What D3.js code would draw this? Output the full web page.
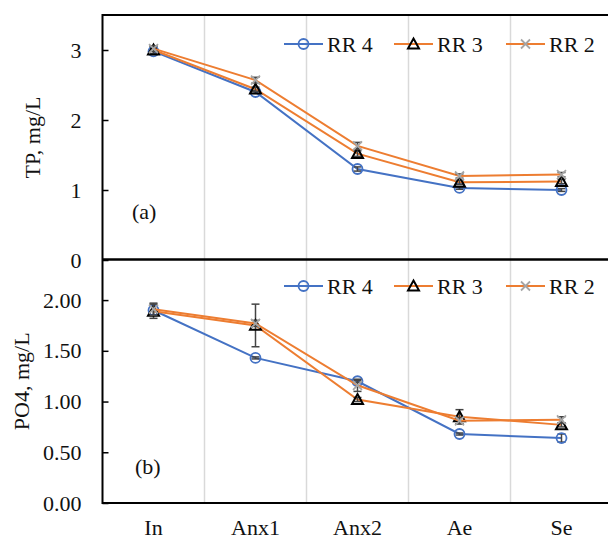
<!DOCTYPE html>
<html>
<head>
<meta charset="utf-8">
<script src="https://cdn.jsdelivr.net/npm/d3@7/dist/d3.min.js"></script>
<style>
  html, body { margin: 0; padding: 0; background: #fff; }
  svg { display: block; font-family: "Liberation Serif", "Times New Roman", serif; }
  svg text { font-family: "Liberation Serif", "Times New Roman", serif; }
</style>
</head>
<body>
<svg id="chart" width="608" height="540"></svg>
<script>
// ---------- data ----------
const categories = ["In", "Anx1", "Anx2", "Ae", "Se"];
const seriesNames = ["RR 4", "RR 3", "RR 2"];

// (a) TP, mg/L
const tpRR4 = [2.98, 2.40, 1.30, 1.03, 1.00];
const tpRR3 = [3.00, 2.44, 1.52, 1.11, 1.12];
const tpRR2 = [3.02, 2.57, 1.63, 1.20, 1.22];
const tpErrRR4 = [0.04, 0.02, 0.03, 0.02, 0.02];
const tpErrRR3 = [0.05, 0.03, 0.04, 0.03, 0.03];
const tpErrRR2 = [0.04, 0.04, 0.05, 0.03, 0.03];
const tpTicks = [0, 1, 2, 3];

// (b) PO4, mg/L
const po4RR4 = [1.90, 1.43, 1.20, 0.68, 0.64];
const po4RR3 = [1.89, 1.75, 1.02, 0.85, 0.77];
const po4RR2 = [1.91, 1.77, 1.16, 0.81, 0.82];
const po4ErrRR4 = [0.05, 0.01, 0.01, 0.01, 0.04];
const po4ErrRR3 = [0.07, 0.21, 0.02, 0.07, 0.02];
const po4ErrRR2 = [0.06, 0.03, 0.06, 0.03, 0.03];
const po4Ticks = [0, 0.5, 1.0, 1.5, 2.0];

// ---------- styling ----------
const styles = {
  "RR 4": { line: "#4472C4", marker: "circle" },
  "RR 3": { line: "#ED7D31", marker: "triangle" },
  "RR 2": { line: "#ED7D31", marker: "cross" }
};
const textColor = "#111";
const errColor = "#444";
const fontFam = "'Liberation Serif', 'Times New Roman', serif";

const svg = d3.select("#chart");
const left = 102.5, right = 612.5;

const x = d3.scaleBand().domain(categories).range([left, right]);
const cx = c => x(c) + x.bandwidth() / 2;

const panels = [
  {
    id: "a", top: 15, bottom: 260, domain: [0, 3.5], ticks: tpTicks, fmt: d3.format("d"),
    title: "TP, mg/L", titleX: 40, label: "(a)", labelX: 132, labelY: 219, legendY: 44,
    values: [tpRR4, tpRR3, tpRR2], errs: [tpErrRR4, tpErrRR3, tpErrRR2]
  },
  {
    id: "b", top: 259.5, bottom: 503, domain: [0, 2.4], ticks: po4Ticks, fmt: d3.format(".2f"),
    title: "PO4, mg/L", titleX: 29, label: "(b)", labelX: 135, labelY: 474, legendY: 286,
    values: [po4RR4, po4RR3, po4RR2], errs: [po4ErrRR4, po4ErrRR3, po4ErrRR2]
  }
];

function drawMarker(g, type, px, py) {
  if (type === "circle") {
    g.append("circle").attr("cx", px).attr("cy", py).attr("r", 5)
      .attr("fill", "none").attr("stroke", "#4472C4").attr("stroke-width", 1.8);
  } else if (type === "triangle") {
    const s = 5.5;
    g.append("path")
      .attr("d", `M${px},${py - s} L${px + s},${py + s * 0.8} L${px - s},${py + s * 0.8} Z`)
      .attr("fill", "none").attr("stroke", "#000").attr("stroke-width", 2);
  } else {
    const s = 4.5;
    g.append("path")
      .attr("d", `M${px - s},${py - s} L${px + s},${py + s} M${px - s},${py + s} L${px + s},${py - s}`)
      .attr("fill", "none").attr("stroke", "#A5A5A5").attr("stroke-width", 1.8);
  }
}

panels.forEach(p => {
  const y = d3.scaleLinear().domain(p.domain).range([p.bottom, p.top]);
  const g = svg.append("g");

  // vertical gridlines between categories
  g.selectAll(".grid").data(categories.slice(1)).enter().append("line")
    .attr("x1", d => x(d)).attr("x2", d => x(d))
    .attr("y1", p.top).attr("y2", p.bottom)
    .attr("stroke", "#d9d9d9").attr("stroke-width", 1.5);

  // y axis
  const axis = d3.axisLeft(y).tickValues(p.ticks).tickFormat(p.fmt)
    .tickSizeInner(-6).tickSizeOuter(0).tickPadding(21);
  const ag = g.append("g").attr("transform", `translate(${left},0)`).call(axis)
    .attr("font-family", fontFam);
  ag.select(".domain").remove();
  ag.selectAll(".tick line").attr("stroke", "#000").attr("stroke-width", 1.5);
  ag.selectAll(".tick text").attr("font-size", 22).attr("fill", textColor)
    .attr("font-family", fontFam);

  // axis title
  g.append("text")
    .attr("transform", `translate(${p.titleX},${(p.top + p.bottom) / 2}) rotate(-90)`)
    .attr("text-anchor", "middle").attr("font-size", 22).attr("fill", textColor)
    .attr("font-family", fontFam)
    .text(p.title);

  // panel label
  g.append("text").attr("x", p.labelX).attr("y", p.labelY)
    .attr("font-size", 22).attr("fill", textColor).attr("font-family", fontFam).text(p.label);

  // series
  seriesNames.forEach((name, i) => {
    const vals = p.values[i];
    const errs = p.errs[i];
    const st = styles[name];
    const pts = categories.map((c, j) => [cx(c), y(vals[j])]);
    g.append("path").attr("d", d3.line()(pts))
      .attr("fill", "none").attr("stroke", st.line).attr("stroke-width", 2);
    // error bars
    categories.forEach((c, j) => {
      const px = cx(c);
      const y1 = y(vals[j] + errs[j]), y2 = y(vals[j] - errs[j]);
      g.append("line").attr("x1", px).attr("x2", px).attr("y1", y1).attr("y2", y2)
        .attr("stroke", errColor).attr("stroke-width", 1.5);
      [y1, y2].forEach(yy => g.append("line")
        .attr("x1", px - 4).attr("x2", px + 4).attr("y1", yy).attr("y2", yy)
        .attr("stroke", errColor).attr("stroke-width", 1.5));
    });
    pts.forEach(([px, py]) => drawMarker(g, st.marker, px, py));
  });

  // legend
  const legX = [284, 394, 506];
  seriesNames.forEach((name, i) => {
    const st = styles[name];
    const lx = legX[i];
    g.append("line").attr("x1", lx).attr("x2", lx + 39)
      .attr("y1", p.legendY).attr("y2", p.legendY)
      .attr("stroke", st.line).attr("stroke-width", 2);
    drawMarker(g, st.marker, lx + 19.5, p.legendY);
    g.append("text").attr("x", lx + 43).attr("y", p.legendY + 7.5)
      .attr("font-size", 22).attr("fill", textColor).attr("font-family", fontFam).text(name);
  });
});

// frame lines
const frame = svg.append("g").attr("stroke", "#000").attr("stroke-width", 2);
frame.append("line").attr("x1", left).attr("x2", left).attr("y1", 14).attr("y2", 504);
frame.append("line").attr("x1", left).attr("x2", 608).attr("y1", 15).attr("y2", 15);
frame.append("line").attr("x1", left).attr("x2", 608).attr("y1", 259.5).attr("y2", 259.5).attr("stroke-width", 2.5);
frame.append("line").attr("x1", left).attr("x2", 608).attr("y1", 503).attr("y2", 503);

// x labels
svg.append("g").selectAll("text").data(categories).enter().append("text")
  .attr("x", d => cx(d)).attr("y", 535)
  .attr("text-anchor", "middle").attr("font-size", 22).attr("fill", textColor)
  .attr("font-family", fontFam)
  .text(d => d);
</script>
</body>
</html>
